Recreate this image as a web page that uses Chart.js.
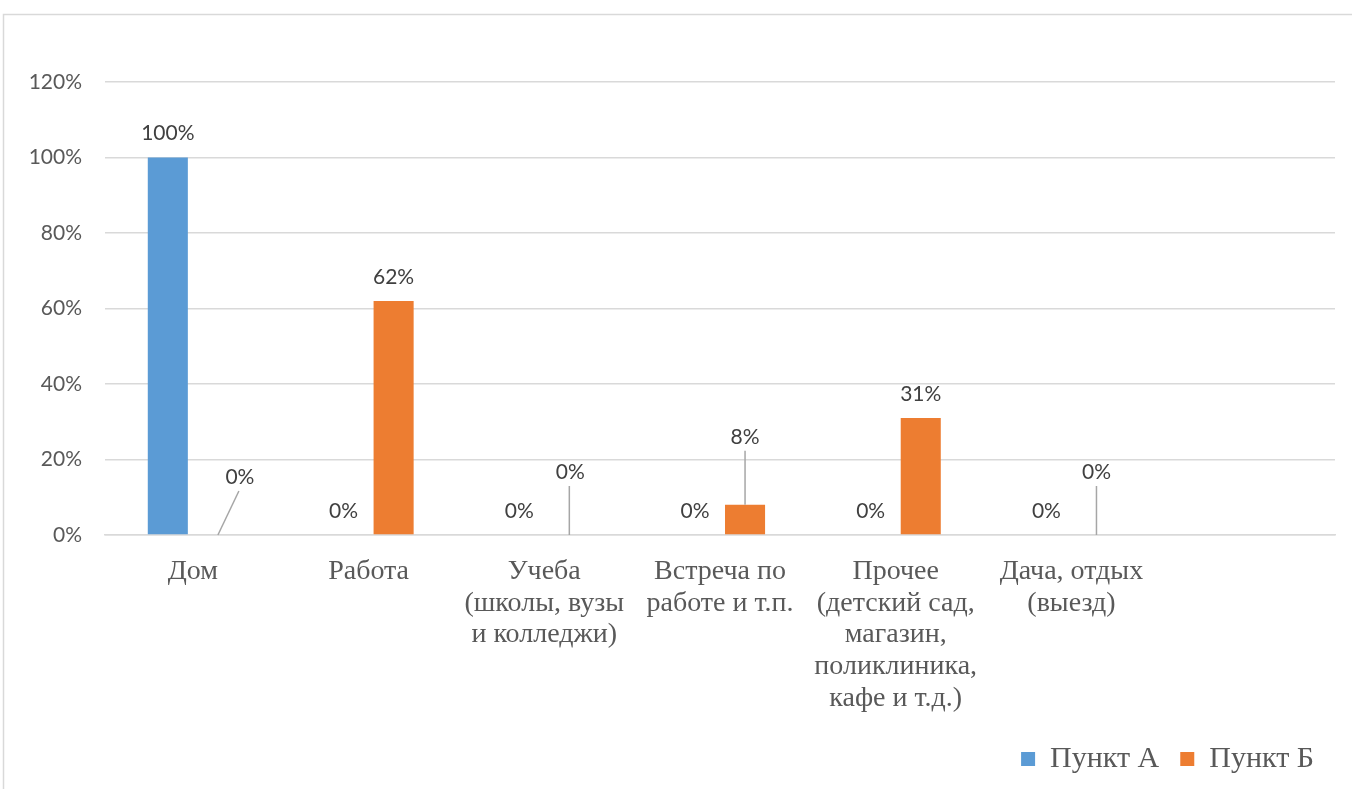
<!DOCTYPE html>
<html>
<head>
<meta charset="utf-8">
<script src="https://cdn.jsdelivr.net/npm/chart.js@4.4.1/dist/chart.umd.min.js"></script>
<style>
  html, body { margin: 0; padding: 0; background: #fff; overflow: hidden; }
  #wrap { position: relative; width: 1352px; height: 789px; }
</style>
</head>
<body>
<div id="wrap"><canvas id="Chart"></canvas></div>
<script>
const categories = [
    ['Дом'],
    ['Работа'],
    ['Учеба', '(школы, вузы', 'и колледжи)'],
    ['Встреча по', 'работе и т.п.'],
    ['Прочее', '(детский сад,', 'магазин,', 'поликлиника,', 'кафе и т.д.)'],
    ['Дача, отдых', '(выезд)'],
    '',
];
const seriesNames = ['Пункт А', 'Пункт Б'];
const punktA = [100, 0, 0, 0, 0, 0, null];
const punktB = [0, 62, 0, 8, 31, 0, null];
const yMin = 0, yMax = 120, yStep = 20;

// labels that Excel moved away from the bar, with a leader line
const leaderOffsets = {
    1: { 0: [22, -58], 2: [1, -63], 3: [0, -68], 5: [0, -63] },
};

const frame = {
    id: 'frame',
    beforeDraw(chart) {
        const ctx = chart.ctx;
        ctx.save();
        ctx.fillStyle = '#fff';
        ctx.fillRect(0, 0, chart.width, chart.height);
        ctx.strokeStyle = '#d9d9d9';
        ctx.lineWidth = 1.5;
        ctx.strokeRect(3.5, 14.5, 1400, 800);
        ctx.restore();
    },
};

const barLabels = {
    id: 'barLabels',
    afterDatasetsDraw(chart) {
        const ctx = chart.ctx;
        ctx.save();
        ctx.font = '21px Lato';
        ctx.textAlign = 'center';
        ctx.textBaseline = 'middle';
        chart.data.datasets.forEach((ds, di) => {
            chart.getDatasetMeta(di).data.forEach((bar, i) => {
                const v = ds.data[i];
                if (v === null || v === undefined) return;
                const off = (leaderOffsets[di] || {})[i];
                let x = bar.x, y = bar.y - 24;
                if (off) {
                    x = bar.x + off[0];
                    y = bar.y + off[1];
                    ctx.beginPath();
                    ctx.strokeStyle = '#a6a6a6';
                    ctx.lineWidth = 1.5;
                    ctx.moveTo(bar.x, bar.y);
                    ctx.lineTo(x - (off[0] ? 1 : 0), y + 14);
                    ctx.stroke();
                }
                ctx.fillStyle = '#404040';
                ctx.fillText(v + '%', x, y);
            });
        });
        ctx.restore();
    },
};

const config = {
    type: 'bar',
    data: {
        labels: categories,
        datasets: [{
            label: seriesNames[0],
            data: punktA,
            backgroundColor: '#5b9bd5',
            categoryPercentage: 0.57,
            barPercentage: 0.8,
        }, {
            label: seriesNames[1],
            data: punktB,
            backgroundColor: '#ed7d31',
            categoryPercentage: 0.57,
            barPercentage: 0.8,
        }],
    },
    options: {
        responsive: true,
        maintainAspectRatio: false,
        animation: false,
        layout: { padding: { top: 82, left: 0, right: 17, bottom: 5 } },
        scales: {
            x: {
                grid: { display: false, drawTicks: false },
                border: { color: '#d9d9d9', width: 1.5 },
                ticks: {
                    color: '#595959',
                    font: { family: 'Liberation Serif', size: 28, lineHeight: 1.13 },
                    padding: 21,
                    maxRotation: 0,
                    autoSkip: false,
                },
                afterFit(scale) { scale.height = 188; },
            },
            y: {
                min: yMin,
                max: yMax,
                grid: { color: '#d9d9d9', lineWidth: 1.5, drawTicks: false },
                border: { display: false },
                ticks: {
                    stepSize: yStep,
                    color: '#595959',
                    font: { family: 'Lato', size: 21 },
                    padding: 23,
                    callback: (v) => v + '%',
                },
                afterFit(scale) { scale.width = 105; },
            },
        },
        plugins: {
            legend: {
                position: 'bottom',
                align: 'end',
                labels: {
                    boxWidth: 14,
                    boxHeight: 14,
                    padding: 21,
                    color: '#595959',
                    font: { family: 'Liberation Serif', size: 30 },
                },
            },
            tooltip: { enabled: false },
        },
    },
    plugins: [frame, barLabels],
};

const ctx = document.getElementById('Chart').getContext('2d');
const myChart = new Chart(ctx, config);
</script>
</body>
</html>
